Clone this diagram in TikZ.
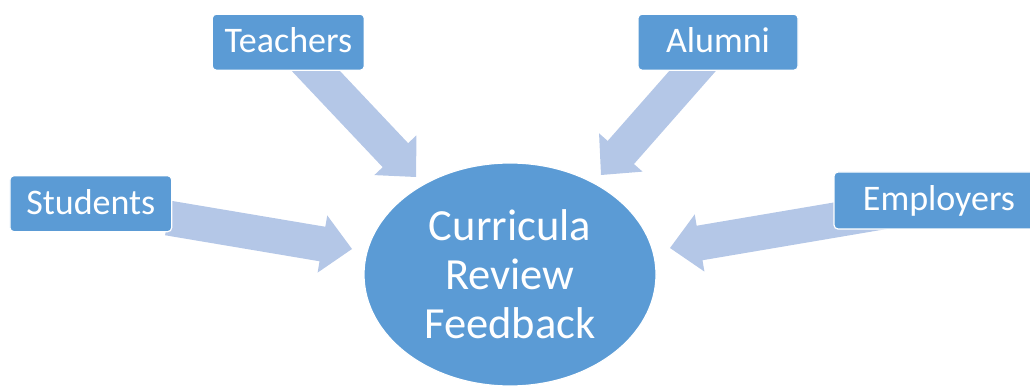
\documentclass[tikz,border=0pt]{standalone}
\usepackage{fontspec}
\setmainfont{Carlito}
\usetikzlibrary{calc,shapes.geometric}
\definecolor{boxblue}{HTML}{5B9BD5}
\definecolor{arrowblue}{HTML}{B4C7E7}
\tikzset{
  srcbox/.style={rectangle, rounded corners=4pt, fill=boxblue, draw=white, line width=1.2pt,
    text=white, font=\fontsize{36}{40}\selectfont, inner sep=0pt, text height=24pt, text depth=3pt},
  hub/.style={ellipse, fill=boxblue, draw=white, line width=1.2pt, text=white, inner sep=0pt,
    minimum width=292pt, minimum height=223pt, align=center,
    font=\fontsize{44.5}{49}\selectfont},
  blockarrow/.style={fill=arrowblue}
}
\newcommand\blockarr[2]{%
  \coordinate (#2base) at ($(#2)!30pt!(#1)$);
  \fill[blockarrow] ($(#1)!17.5pt!90:(#2)$) -- ($(#2base)!17.5pt!90:(#2)$)
    -- ($(#2base)!29pt!90:(#2)$) -- (#2) -- ($(#2base)!29pt!-90:(#2)$)
    -- ($(#2base)!17.5pt!-90:(#2)$) -- ($(#1)!17.5pt!-90:(#2)$) -- cycle;
}
\begin{document}
\begin{tikzpicture}[x=1pt,y=-1pt]
\useasboundingbox (0,0) rectangle (1030,387);
\clip (0,0) rectangle (1030,387);
% hub
\node[hub] (hubnode) at (510,274.5) {Curricula\\Review\\Feedback};
% arrow end points
\coordinate (stuT) at (168,218);
\coordinate (stuH) at (352,249);
\coordinate (teaT) at (297,51);
\coordinate (teaH) at (416,177);
\coordinate (aluT) at (711,50);
\coordinate (aluH) at (601,175);
\coordinate (empT) at (900,209);
\coordinate (empH) at (670,248);
\blockarr{stuT}{stuH}
\blockarr{teaT}{teaH}
\blockarr{aluT}{aluH}
\blockarr{empT}{empH}
% source boxes
\node[srcbox, minimum width=161.7pt, minimum height=56pt] (stu) at (90.8,203.7) {Students};
\node[srcbox, minimum width=152pt, minimum height=56pt] (tea) at (288.3,42.2) {Teachers};
\node[srcbox, minimum width=160pt, minimum height=56pt] (alu) at (718,42.2) {Alumni};
\node[srcbox, minimum width=210pt, minimum height=57pt] (emp) at (939,200.5) {Employers};
\end{tikzpicture}
\end{document}
